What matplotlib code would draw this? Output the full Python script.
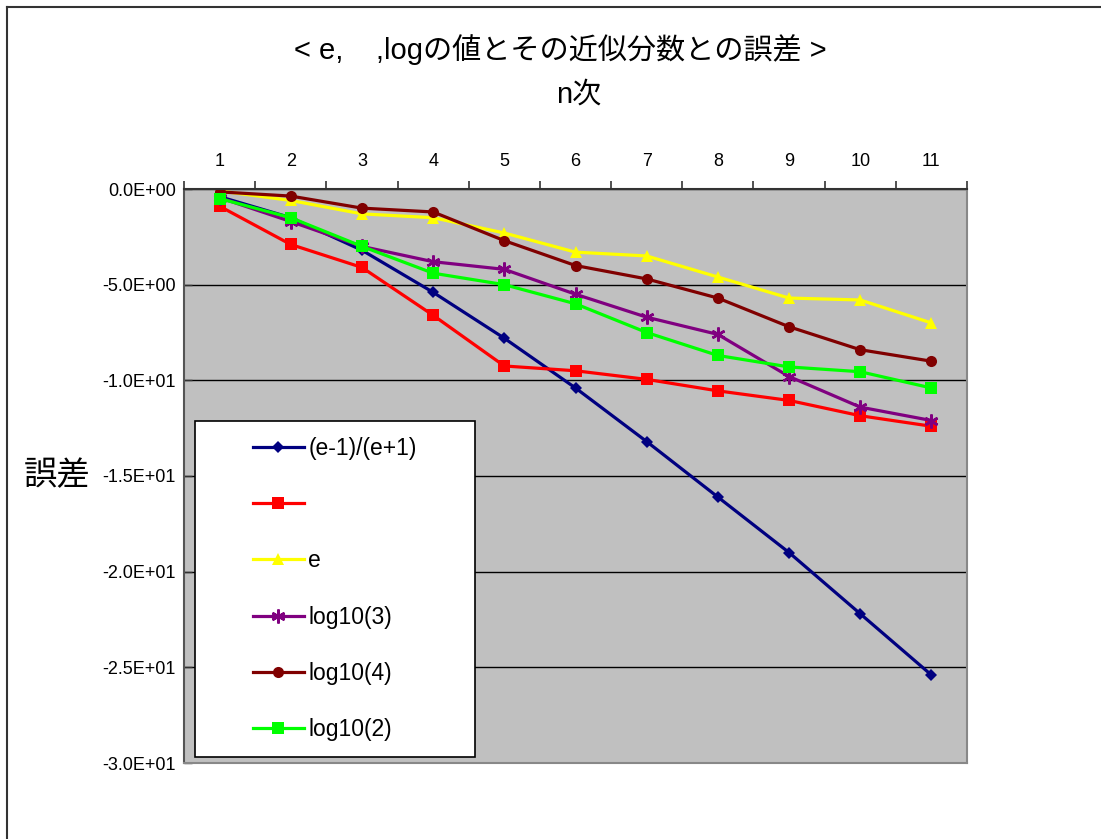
import numpy as np
import matplotlib
matplotlib.use("Agg")
import matplotlib.pyplot as plt
from matplotlib.ticker import FuncFormatter, MultipleLocator
from matplotlib.lines import Line2D
from matplotlib.patches import Rectangle

plt.rcParams['font.family'] = ['Liberation Sans', 'Noto Sans CJK JP', 'DejaVu Sans']

##### Datos
n = np.arange(1, 12)
err_e1 = [-0.4, -1.5, -3.2, -5.4, -7.8, -10.4, -13.2, -16.1, -19.0, -22.2, -25.4]
err_pi = [-0.9, -2.9, -4.1, -6.6, -9.25, -9.5, -9.95, -10.55, -11.05, -11.85, -12.4]
err_e = [-0.1, -0.6, -1.3, -1.5, -2.3, -3.3, -3.5, -4.6, -5.7, -5.8, -7.0]
err_log3 = [-0.45, -1.7, -3.0, -3.8, -4.2, -5.5, -6.7, -7.6, -9.8, -11.4, -12.1]
err_log4 = [-0.15, -0.37, -1.0, -1.2, -2.7, -4.0, -4.7, -5.7, -7.2, -8.4, -9.0]
err_log2 = [-0.5, -1.5, -3.0, -4.4, -5.0, -6.0, -7.5, -8.7, -9.3, -9.55, -10.4]

series = [
    (err_e1, "(e-1)/(e+1)", "#000080", "D", 6.5),
    (err_pi, " ", "#FF0000", "s", 8),
    (err_e, "e", "#FFFF00", "^", 8.5),
    (err_log3, "log10(3)", "#800080", (6, 2, 0), 10),
    (err_log4, "log10(4)", "#800000", "o", 8),
    (err_log2, "log10(2)", "#00FF00", "s", 8),
]

W, H = 1101, 839
fig = plt.figure(figsize=(W / 100, H / 100), dpi=100)
ax = fig.add_axes([184 / W, 1 - 763 / H, (967 - 184) / W, (763 - 189) / H])
ax.set_facecolor("#C0C0C0")

for vals, lab, col, mk, ms in series:
    kw = dict(markeredgewidth=1.8) if mk == (6, 2, 0) else dict(markeredgewidth=0)
    ax.plot(n, vals, color=col, lw=2.3, marker=mk, markersize=ms,
            markerfacecolor=col, markeredgecolor=col, label=lab, **kw)

ax.set_xlim(0.5, 11.5)
ax.set_ylim(-30, 0)

# eje x arriba: marcas en los bordes, etiquetas en el centro
ax.xaxis.tick_top()
ax.set_xticks(np.arange(0.5, 12, 1))
ax.set_xticklabels([])
ax.set_xticks(n, minor=True)
ax.set_xticklabels([str(i) for i in n], minor=True, fontsize=13)
ax.tick_params(axis="x", which="major", length=6, width=1.2, color="#333333", top=True, bottom=False)
ax.tick_params(axis="x", which="minor", length=0, pad=14)

ax.yaxis.set_major_locator(MultipleLocator(5))
ax.yaxis.set_major_formatter(FuncFormatter(lambda v, p: f"{v:.1E}"))
ax.tick_params(axis="y", direction="in", length=6, width=1.0, color="#333333", labelsize=13, pad=6)
ax.grid(True, axis="y", color="black", lw=1.0)
ax.set_axisbelow(True)

ax.spines["left"].set_color("#555555")
ax.spines["top"].set_color("#333333")
ax.spines["right"].set_color("#888888")
ax.spines["bottom"].set_color("#888888")
for s in ax.spines.values():
    s.set_linewidth(1.5)

# caja blanca de la leyenda
ax.add_patch(Rectangle((0.014, 0.0105), 0.358, 0.5855, transform=ax.transAxes,
                       facecolor="white", edgecolor="black", lw=1.2, zorder=4.5))
leg = ax.legend(loc="center", bbox_to_anchor=(0.1928, 0.3031),
                fontsize=16.5, frameon=False, borderaxespad=0,
                handlelength=2.2, handletextpad=0.2, labelspacing=1.45,
                markerscale=1.0)

fig.text(0.509, 1 - 50 / H, "< e,    ,logの値とその近似分数との誤差 >",
         ha="center", va="center", fontsize=21)
fig.text(579 / W, 1 - 95 / H, "n次", ha="center", va="center", fontsize=21)
fig.text(57 / W, 1 - 477 / H, "誤差", ha="center", va="center", fontsize=24)

# marco exterior del grafico
fig.add_artist(Line2D([7 / W, 1], [1 - 7 / H, 1 - 7 / H], transform=fig.transFigure,
                      color="#333333", lw=1.5))
fig.add_artist(Line2D([7 / W, 7 / W], [0, 1 - 7 / H], transform=fig.transFigure,
                      color="#333333", lw=1.5))

fig.savefig("out.png", dpi=100)
